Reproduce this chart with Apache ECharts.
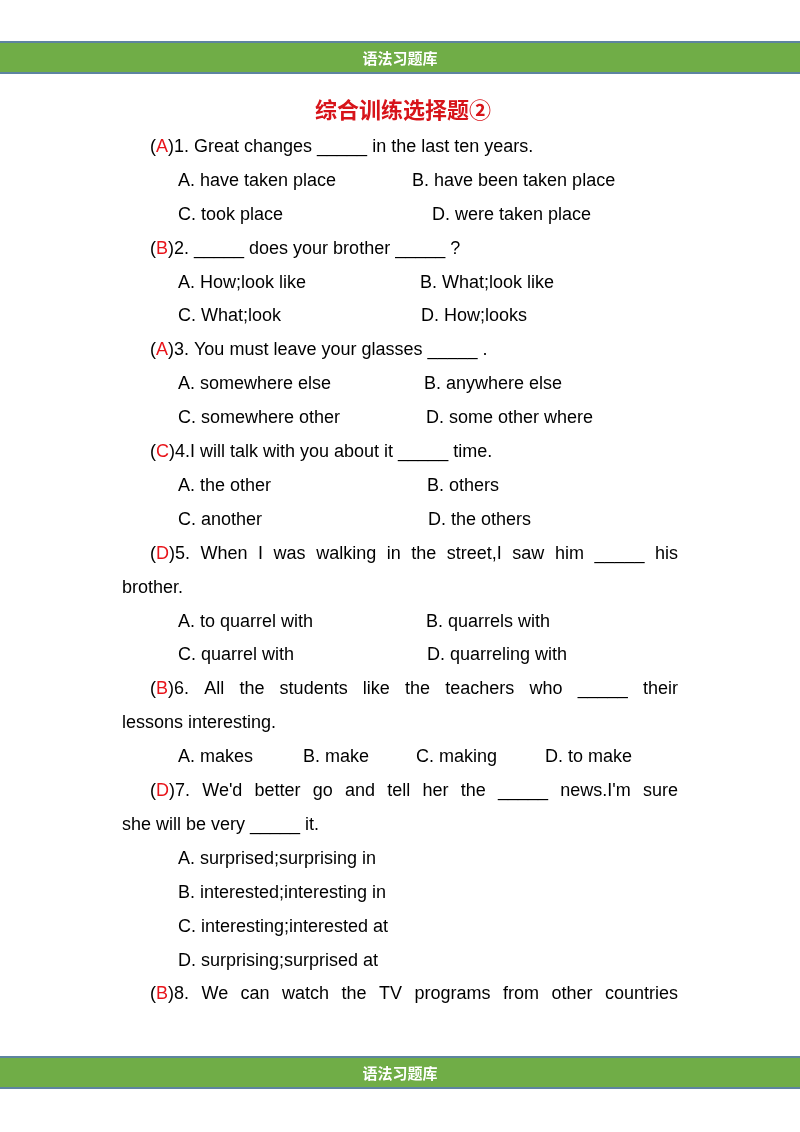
<!DOCTYPE html>
<html><head><meta charset="utf-8">
<script src="https://cdn.jsdelivr.net/npm/echarts@6/dist/echarts.min.js"></script>
<style>html,body{margin:0;padding:0;background:#fff}#c{width:800px;height:1132px}</style>
</head><body><div id="c"></div>
<script>
const headerText = '语法习题库';
const title = '综合训练选择题②';
const answers = ['A','B','A','C','D','B','D','B'];
const stems = [
  ['1. Great changes _____ in the last ten years.'],
  ['2. _____ does your brother _____ ?'],
  ['3. You must leave your glasses _____ .'],
  ['4.I will talk with you about it _____ time.'],
  ['5. When I was walking in the street,I saw him _____ his', 'brother.'],
  ['6. All the students like the teachers who _____ their', 'lessons interesting.'],
  ["7. We'd better go and tell her the _____ news.I'm sure", 'she will be very _____ it.'],
  ['8. We can watch the TV programs from other countries']
];
const options = [
  ['A. have taken place','B. have been taken place','C. took place','D. were taken place'],
  ['A. How;look like','B. What;look like','C. What;look','D. How;looks'],
  ['A. somewhere else','B. anywhere else','C. somewhere other','D. some other where'],
  ['A. the other','B. others','C. another','D. the others'],
  ['A. to quarrel with','B. quarrels with','C. quarrel with','D. quarreling with'],
  ['A. makes','B. make','C. making','D. to make'],
  ['A. surprised;surprising in','B. interested;interesting in','C. interesting;interested at','D. surprising;surprised at'],
  []
];
const optLayout = ['2col','2col','2col','2col','2col','4col','1col','none'];
const col2X = [[412,432],[420,421],[424,426],[427,428],[426,427]];

const FONT = 'Liberation Sans';
const FS = 18;
const cv = document.createElement('canvas').getContext('2d');
cv.font = FS + 'px "' + FONT + '"';
const mw = s => cv.measureText(s).width;

const g = [];
function bar(y){
  g.push({type:'rect',shape:{x:0,y:y,width:800,height:31},style:{fill:'#70AD47'}});
  g.push({type:'rect',shape:{x:0,y:y-1,width:800,height:2},style:{fill:'#5E84A0'}});
  g.push({type:'rect',shape:{x:0,y:y+30,width:800,height:2},style:{fill:'#5E84A0'}});
  g.push({type:'text',x:400,y:y+16,style:{text:headerText,fill:'#fff',font:'bold 15px "Noto Sans CJK SC"',align:'center',verticalAlign:'middle'}});
}
bar(42); bar(1057);
g.push({type:'text',x:403,y:110,style:{text:title,fill:'#D7141A',font:'bold 22px "Noto Sans CJK SC"',align:'center',verticalAlign:'middle'}});

const rich = {k:{fill:'#000',fontFamily:FONT,fontSize:FS},r:{fill:'#E8141A',fontFamily:FONT,fontSize:FS}};
function txt(x,y,s){ g.push({type:'text',x:x,y:y,style:{text:s,fill:'#000',font:FS+'px "'+FONT+'"',verticalAlign:'middle'}}); }
function stemFirst(x,y,ans,s){ g.push({type:'text',x:x,y:y,style:{text:'{k|(}{r|'+ans+'}{k|)'+s+'}',rich:rich,verticalAlign:'middle'}}); }
function justified(x,y,ans,s,right){
  const words = s.split(' ');
  const first = '('+ans+')'+words[0];
  const widths = words.map((w,i)=> i===0 ? mw(first) : mw(w));
  const total = widths.reduce((a,b)=>a+b,0);
  const gap = (right - x - total)/(words.length-1);
  let cx = x;
  words.forEach((w,i)=>{
    if(i===0) stemFirst(cx,y,ans,w); else txt(cx,y,w);
    cx += widths[i] + gap;
  });
}

let y = 147; const LH = 33.9;
stems.forEach((lines,qi)=>{
  lines.forEach((ln,li)=>{
    if(li===0){
      if(lines.length>1 || qi===7) justified(150,y,answers[qi],ln,678);
      else stemFirst(150,y,answers[qi],ln);
    } else txt(122,y,ln);
    y += LH;
  });
  const o = options[qi], L = optLayout[qi];
  if(L==='2col'){
    txt(178,y,o[0]); txt(col2X[qi][0],y,o[1]); y+=LH;
    txt(178,y,o[2]); txt(col2X[qi][1],y,o[3]); y+=LH;
  } else if(L==='4col'){
    [178,303,416,545].forEach((x,i)=>txt(x,y,o[i])); y+=LH;
  } else if(L==='1col'){
    o.forEach(s=>{txt(178,y,s); y+=LH;});
  }
});

const chart = echarts.init(document.getElementById('c'));
chart.setOption({backgroundColor:'#fff',graphic:{elements:g}});
</script></body></html>
